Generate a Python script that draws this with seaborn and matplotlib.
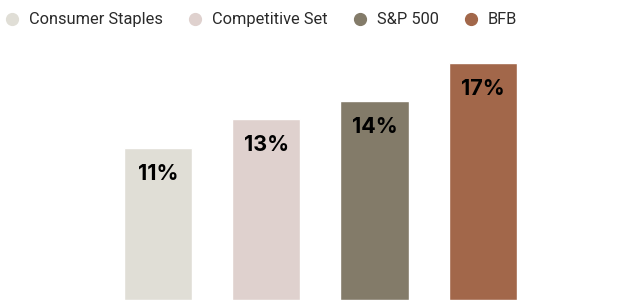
import matplotlib
matplotlib.use("Agg")
import matplotlib.pyplot as plt
from matplotlib.lines import Line2D
import seaborn as sns
import pandas as pd

categories = ["Consumer Staples", "Competitive Set", "S&P 500", "BFB"]
values = [10.9, 13.0, 14.3, 17.0]
labels = ["11%", "13%", "14%", "17%"]
colors = ["#E0DED6", "#DFD1CE", "#837B69", "#A2674A"]

df = pd.DataFrame({"group": categories, "value": values})

sns.set_theme(style="white")
plt.rcParams["font.family"] = ["Roboto", "DejaVu Sans"]

fig = plt.figure(figsize=(6.36, 3.0), dpi=100)
ax = fig.add_axes([0, 0, 1, 250 / 300])

sns.barplot(data=df, x="group", y="value", hue="group", palette=colors,
            width=0.63, legend=False, ax=ax, saturation=1)

ax.set_xlim(-1.459, 4.414)
ax.set_ylim(0, 17.92)
ax.axis("off")

# value labels inside the top of each bar
for i, (v, lab) in enumerate(zip(values, labels)):
    ax.annotate(lab, (i, v), xytext=(0, -26), textcoords="offset pixels",
                ha="center", va="center", fontsize=15.5, fontweight="bold",
                color="black", family=["Inter", "DejaVu Sans"])

handles = [Line2D([], [], marker="o", linestyle="none", markersize=8.5,
                  markerfacecolor=c, markeredgecolor=c) for c in colors]
fig.legend(handles, categories, loc="upper left", bbox_to_anchor=(-0.0038, 0.981),
           ncol=4, frameon=False, fontsize=11.8, handletextpad=0.5,
           columnspacing=1.5, handlelength=1.0, borderaxespad=0,
           labelcolor="#2a2a2a")

fig.savefig("out.png", dpi=100)
